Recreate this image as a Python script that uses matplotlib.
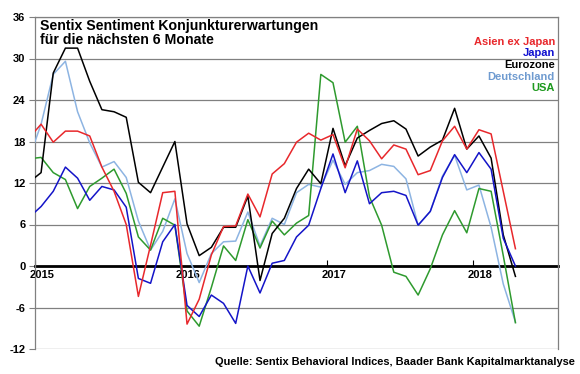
import matplotlib
matplotlib.use("Agg")
import matplotlib.pyplot as plt
import matplotlib.transforms as mtransforms
import numpy as np

plt.rcParams['font.family'] = ['Liberation Sans', 'DejaVu Sans']

# monthly sentix readings, Dec 2014 .. Apr 2018
asien = [18.5, 20.5, 17.9, 19.5, 19.5, 18.8, 14.3, 10.8, 6.0, -4.4, 3.0, 10.6, 10.8,
         -8.4, -4.8, 1.6, 5.7, 5.8, 10.4, 7.1, 13.3, 14.8, 17.9, 19.2, 18.2, 19.0,
         14.2, 19.8, 18.1, 15.5, 17.5, 16.9, 13.2, 13.8, 18.1, 20.2, 16.9, 19.7, 19.1,
         10.8, 2.5]
japan = [7.0, 8.6, 10.8, 14.3, 12.7, 9.5, 11.5, 11.0, 8.5, -1.8, -2.5, 3.5, 6.0,
         -5.7, -7.3, -4.2, -5.4, -8.3, 0.0, -3.9, 0.4, 0.8, 4.2, 5.9, 11.2, 16.2,
         10.6, 15.2, 9.0, 10.6, 10.8, 10.2, 5.9, 7.9, 12.8, 16.1, 13.5, 16.4, 14.0,
         4.0, 0.0]
eurozone = [12.1, 13.5, 27.9, 31.5, 31.5, 26.7, 22.6, 22.3, 21.5, 12.1, 10.6, 14.3, 18.0,
            6.1, 1.5, 2.7, 5.6, 5.6, 10.1, -2.1, 4.7, 6.9, 11.2, 14.0, 11.9, 19.9,
            14.5, 18.5, 19.6, 20.6, 21.0, 19.8, 15.9, 17.2, 18.2, 22.8, 16.9, 18.8, 15.6,
            4.5, -1.5]
deutschland = [15.5, 20.5, 27.7, 29.6, 22.3, 17.8, 14.3, 15.1, 12.8, 6.5, 2.3, 5.0, 9.7,
               1.8, -2.4, 1.8, 3.5, 3.6, 7.8, 2.9, 6.9, 6.0, 10.6, 11.8, 11.4, 15.3,
               11.8, 13.5, 13.8, 14.7, 14.4, 12.6, 5.9, 7.9, 13.0, 16.0, 11.0, 11.7, 5.6,
               -2.6, -8.1]
usa = [15.5, 15.7, 13.5, 12.5, 8.3, 11.5, 12.7, 14.0, 10.5, 4.2, 2.3, 6.9, 5.9,
       -6.5, -8.7, -3.1, 2.9, 0.8, 6.7, 2.6, 6.5, 4.5, 6.2, 7.3, 27.7, 26.5,
       17.9, 20.2, 10.0, 5.9, -0.9, -1.5, -4.2, -0.4, 4.5, 8.0, 4.8, 11.2, 10.8,
       1.5, -8.2]

years = ['2015', '2016', '2017', '2018']
y_ticks = [-12, -6, 0, 6, 12, 18, 24, 30, 36]

# months since 1 Jan 2015, readings sit mid-month
x = np.arange(len(eurozone)) - 0.5

series = [
    ('Deutschland', deutschland, '#8DB4E2', '#6F9BD0'),
    ('USA', usa, '#2E9A2E', '#1E9A1E'),
    ('Eurozone', eurozone, '#000000', '#000000'),
    ('Japan', japan, '#1414C8', '#1010D0'),
    ('Asien ex Japan', asien, '#E8282C', '#E8282C'),
]
legend_order = ['Asien ex Japan', 'Japan', 'Eurozone', 'Deutschland', 'USA']

fig = plt.figure(figsize=(5.8, 3.74), dpi=100)
ax = fig.add_axes([35 / 580, 1 - 349 / 374, 523 / 580, 332 / 374])

for name, vals, col, _ in series:
    ax.plot(x, vals, color=col, lw=1.1, zorder=3)

ax.set_xlim(0, 43)
ax.set_ylim(-12, 36)
ax.set_yticks(y_ticks)
ax.set_yticklabels([str(v) for v in y_ticks], fontsize=8, fontweight='bold')
ax.yaxis.grid(True, color='#808080', lw=0.9)
ax.set_axisbelow(True)

ax.spines['bottom'].set_position(('data', 0))
ax.spines['bottom'].set_linewidth(2)
ax.spines['bottom'].set_zorder(2)
for s in ['left', 'right', 'top']:
    ax.spines[s].set_color('#808080')
    ax.spines[s].set_linewidth(0.9)
ax.tick_params(axis='x', direction='in', length=4, pad=3, color='black')
ax.tick_params(axis='y', direction='out', length=4, pad=3, color='#808080')

ax.set_xticks([0, 12, 24, 36])
ax.set_xticklabels(years, fontsize=8, fontweight='bold')
# year labels sit a little right of their tick
offset = mtransforms.ScaledTranslation(7 / 100, 0, fig.dpi_scale_trans)
for tick in ax.xaxis.get_major_ticks():
    tick.label1.set_transform(tick.label1.get_transform() + offset)

ax.text(0.01, 0.995, 'Sentix Sentiment Konjunkturerwartungen\nfür die nächsten 6 Monate',
        transform=ax.transAxes, ha='left', va='top', fontsize=10.2,
        fontweight='bold', linespacing=1.05)

colors = {name: tcol for name, _, _, tcol in series}
for i, name in enumerate(legend_order):
    fig.text(555 / 580, 1 - (41.6 + i * 11.7) / 374, name, ha='right', va='center',
             fontsize=8, fontweight='bold', color=colors[name])

fig.text(575 / 580, 1 - 362 / 374,
         'Quelle: Sentix Behavioral Indices, Baader Bank Kapitalmarktanalyse',
         ha='right', va='center', fontsize=7.9, fontweight='bold')

fig.savefig('out.png', dpi=100)
